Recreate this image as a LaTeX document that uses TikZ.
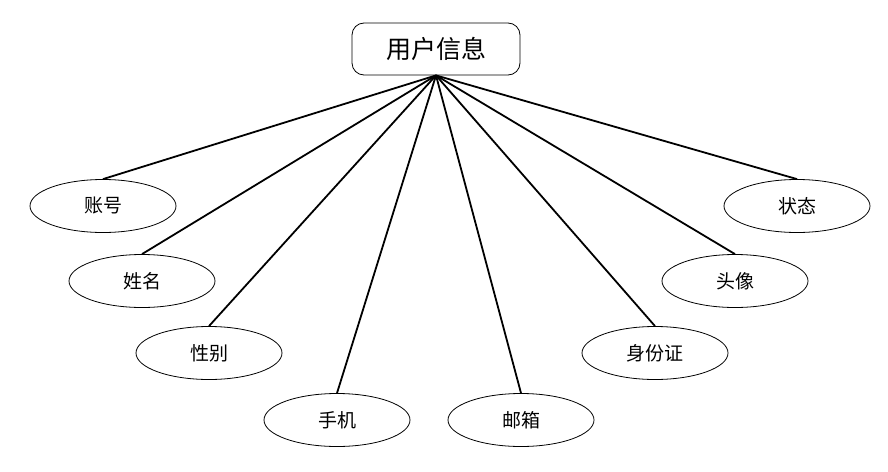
\documentclass[tikz,border=0pt]{standalone}
\usepackage{fontspec}
\setmainfont{Noto Sans CJK SC}
\usetikzlibrary{shapes.geometric}

\begin{document}
\begin{tikzpicture}[x=1pt,y=-1pt,
	attr/.style={draw,ellipse,line width=0.8pt,minimum width=146pt,minimum height=53pt,inner sep=0pt,font=\fontsize{19}{21}\selectfont},
	entity/.style={draw,rounded corners=12pt,line width=0.8pt,minimum width=168pt,minimum height=52pt,inner sep=0pt,font=\fontsize{25}{28}\selectfont},
	link/.style={line width=1.8pt,black}]
	\useasboundingbox (0,0) rectangle (888,471);
	\node[entity] (user) at (436,49) {用户信息};
	
	\node[attr] (account) at (103,206) {账号};
	\node[attr] (name) at (142,281) {姓名};
	\node[attr] (gender) at (209,353) {性别};
	\node[attr] (phone) at (337,420) {手机};
	\node[attr] (mail) at (521,420) {邮箱};
	\node[attr] (idcard) at (655,353) {身份证};
	\node[attr] (avatar) at (735,281) {头像};
	\node[attr] (state) at (797,206) {状态};
	
	\foreach \n in {account,name,gender,phone,mail,idcard,avatar,state}
		\draw[link] (user.south) -- (\n.north);
\end{tikzpicture}
\end{document}
